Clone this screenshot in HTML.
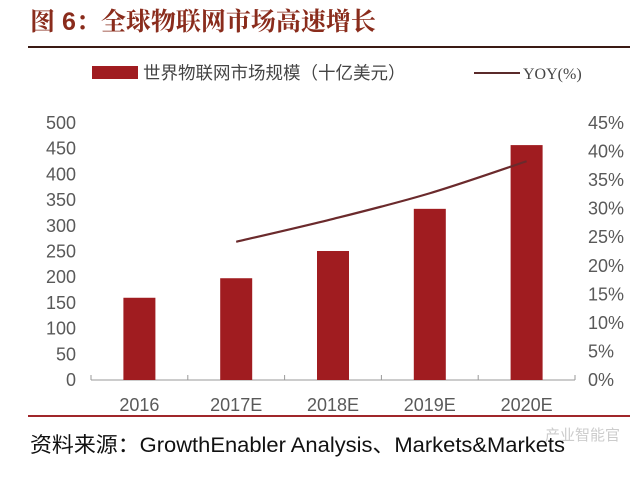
<!DOCTYPE html>
<html><head><meta charset="utf-8"><style>
body{margin:0;background:#fff;width:640px;height:475px;overflow:hidden;font-family:"Liberation Sans","Noto Sans CJK SC",sans-serif}
</style></head><body>
<svg width="640" height="475" viewBox="0 0 640 475">
<text x="30" y="30" font-size="25" font-weight="bold" fill="#8a2c1c" font-family="Liberation Sans,Noto Serif CJK SC,serif">图 6：全球物联网市场高速增长</text>
<line x1="28" y1="47" x2="630" y2="47" stroke="#3a1a14" stroke-width="2"/>
<rect x="92" y="66" width="46" height="13" fill="#a01c20"/>
<text x="143" y="79" font-size="17.5" fill="#444">世界物联网市场规模（十亿美元）</text>
<line x1="474" y1="73" x2="520" y2="73" stroke="#5a2a2a" stroke-width="2"/>
<text x="523" y="79" font-size="16" fill="#444" font-family="Liberation Serif,serif">YOY(%)</text>
<g id="plot"></g>
<line x1="28" y1="416" x2="630" y2="416" stroke="#a0262a" stroke-width="2"/>
<text x="30" y="452" font-size="21" fill="#111" textLength="535" lengthAdjust="spacingAndGlyphs">资料来源：GrowthEnabler Analysis、Markets&amp;Markets</text>
<text x="545" y="440" font-size="15" fill="#ccc">产业智能官</text>
</svg>
<script>
const categories=["2016","2017E","2018E","2019E","2020E"];
const marketValues=[160,198,251,333,457];
const yoyValues=[null,24.2,28.2,32.7,38.3];
const leftTicks=[0,50,100,150,200,250,300,350,400,450,500];
const rightTicks=["0%","5%","10%","15%","20%","25%","30%","35%","40%","45%"];
const NS="http://www.w3.org/2000/svg";
const g=document.getElementById('plot');
const x0=91,x1=575,yB=380,yT=123;
const bw=(x1-x0)/categories.length;
const xc=i=>x0+bw*(i+0.5);
const yL=v=>yB-(v/500)*(yB-yT);
const yR=v=>yB-(v/45)*(yB-yT);
function mk(t,a){const e=document.createElementNS(NS,t);for(const k in a)e.setAttribute(k,a[k]);g.appendChild(e);return e;}
leftTicks.forEach(v=>{const e=mk('text',{x:76,y:yL(v)+6,'text-anchor':'end','font-size':18,fill:'#595959'});e.textContent=v;

});
rightTicks.forEach((t,i)=>{const e=mk('text',{x:588,y:yR(i*5)+6,'font-size':18,fill:'#595959'});e.textContent=t;

});
const ax=mk('line',{x1:x0,y1:yB,x2:x1,y2:yB,stroke:'#999','stroke-width':1});


for(let i=0;i<=categories.length;i++){const t=mk('line',{x1:x0+bw*i,y1:yB,x2:x0+bw*i,y2:yB-5,stroke:'#999'});

}
categories.forEach((c,i)=>{
const r=mk('rect',{x:xc(i)-16,y:yL(marketValues[i]),width:32,height:yB-yL(marketValues[i]),fill:'#a01c20'});


const t=mk('text',{x:xc(i),y:yB+31,'text-anchor':'middle','font-size':18,fill:'#595959'});t.textContent=c;


});
const pts=yoyValues.map((v,i)=>v==null?null:[xc(i),yR(v)]).filter(p=>p);
let d='M'+pts[0].join(',');
for(let i=1;i<pts.length;i++){const p0=pts[i-2]||pts[i-1],p1=pts[i-1],p2=pts[i],p3=pts[i+1]||p2;
const c1=[p1[0]+(p2[0]-p0[0])/6,p1[1]+(p2[1]-p0[1])/6],c2=[p2[0]-(p3[0]-p1[0])/6,p2[1]-(p3[1]-p1[1])/6];
d+=' C'+c1.join(',')+' '+c2.join(',')+' '+p2.join(',');}
const l=mk('path',{d:d,fill:'none',stroke:'#6b2a2c','stroke-width':2.2});


</script>
</body></html>
